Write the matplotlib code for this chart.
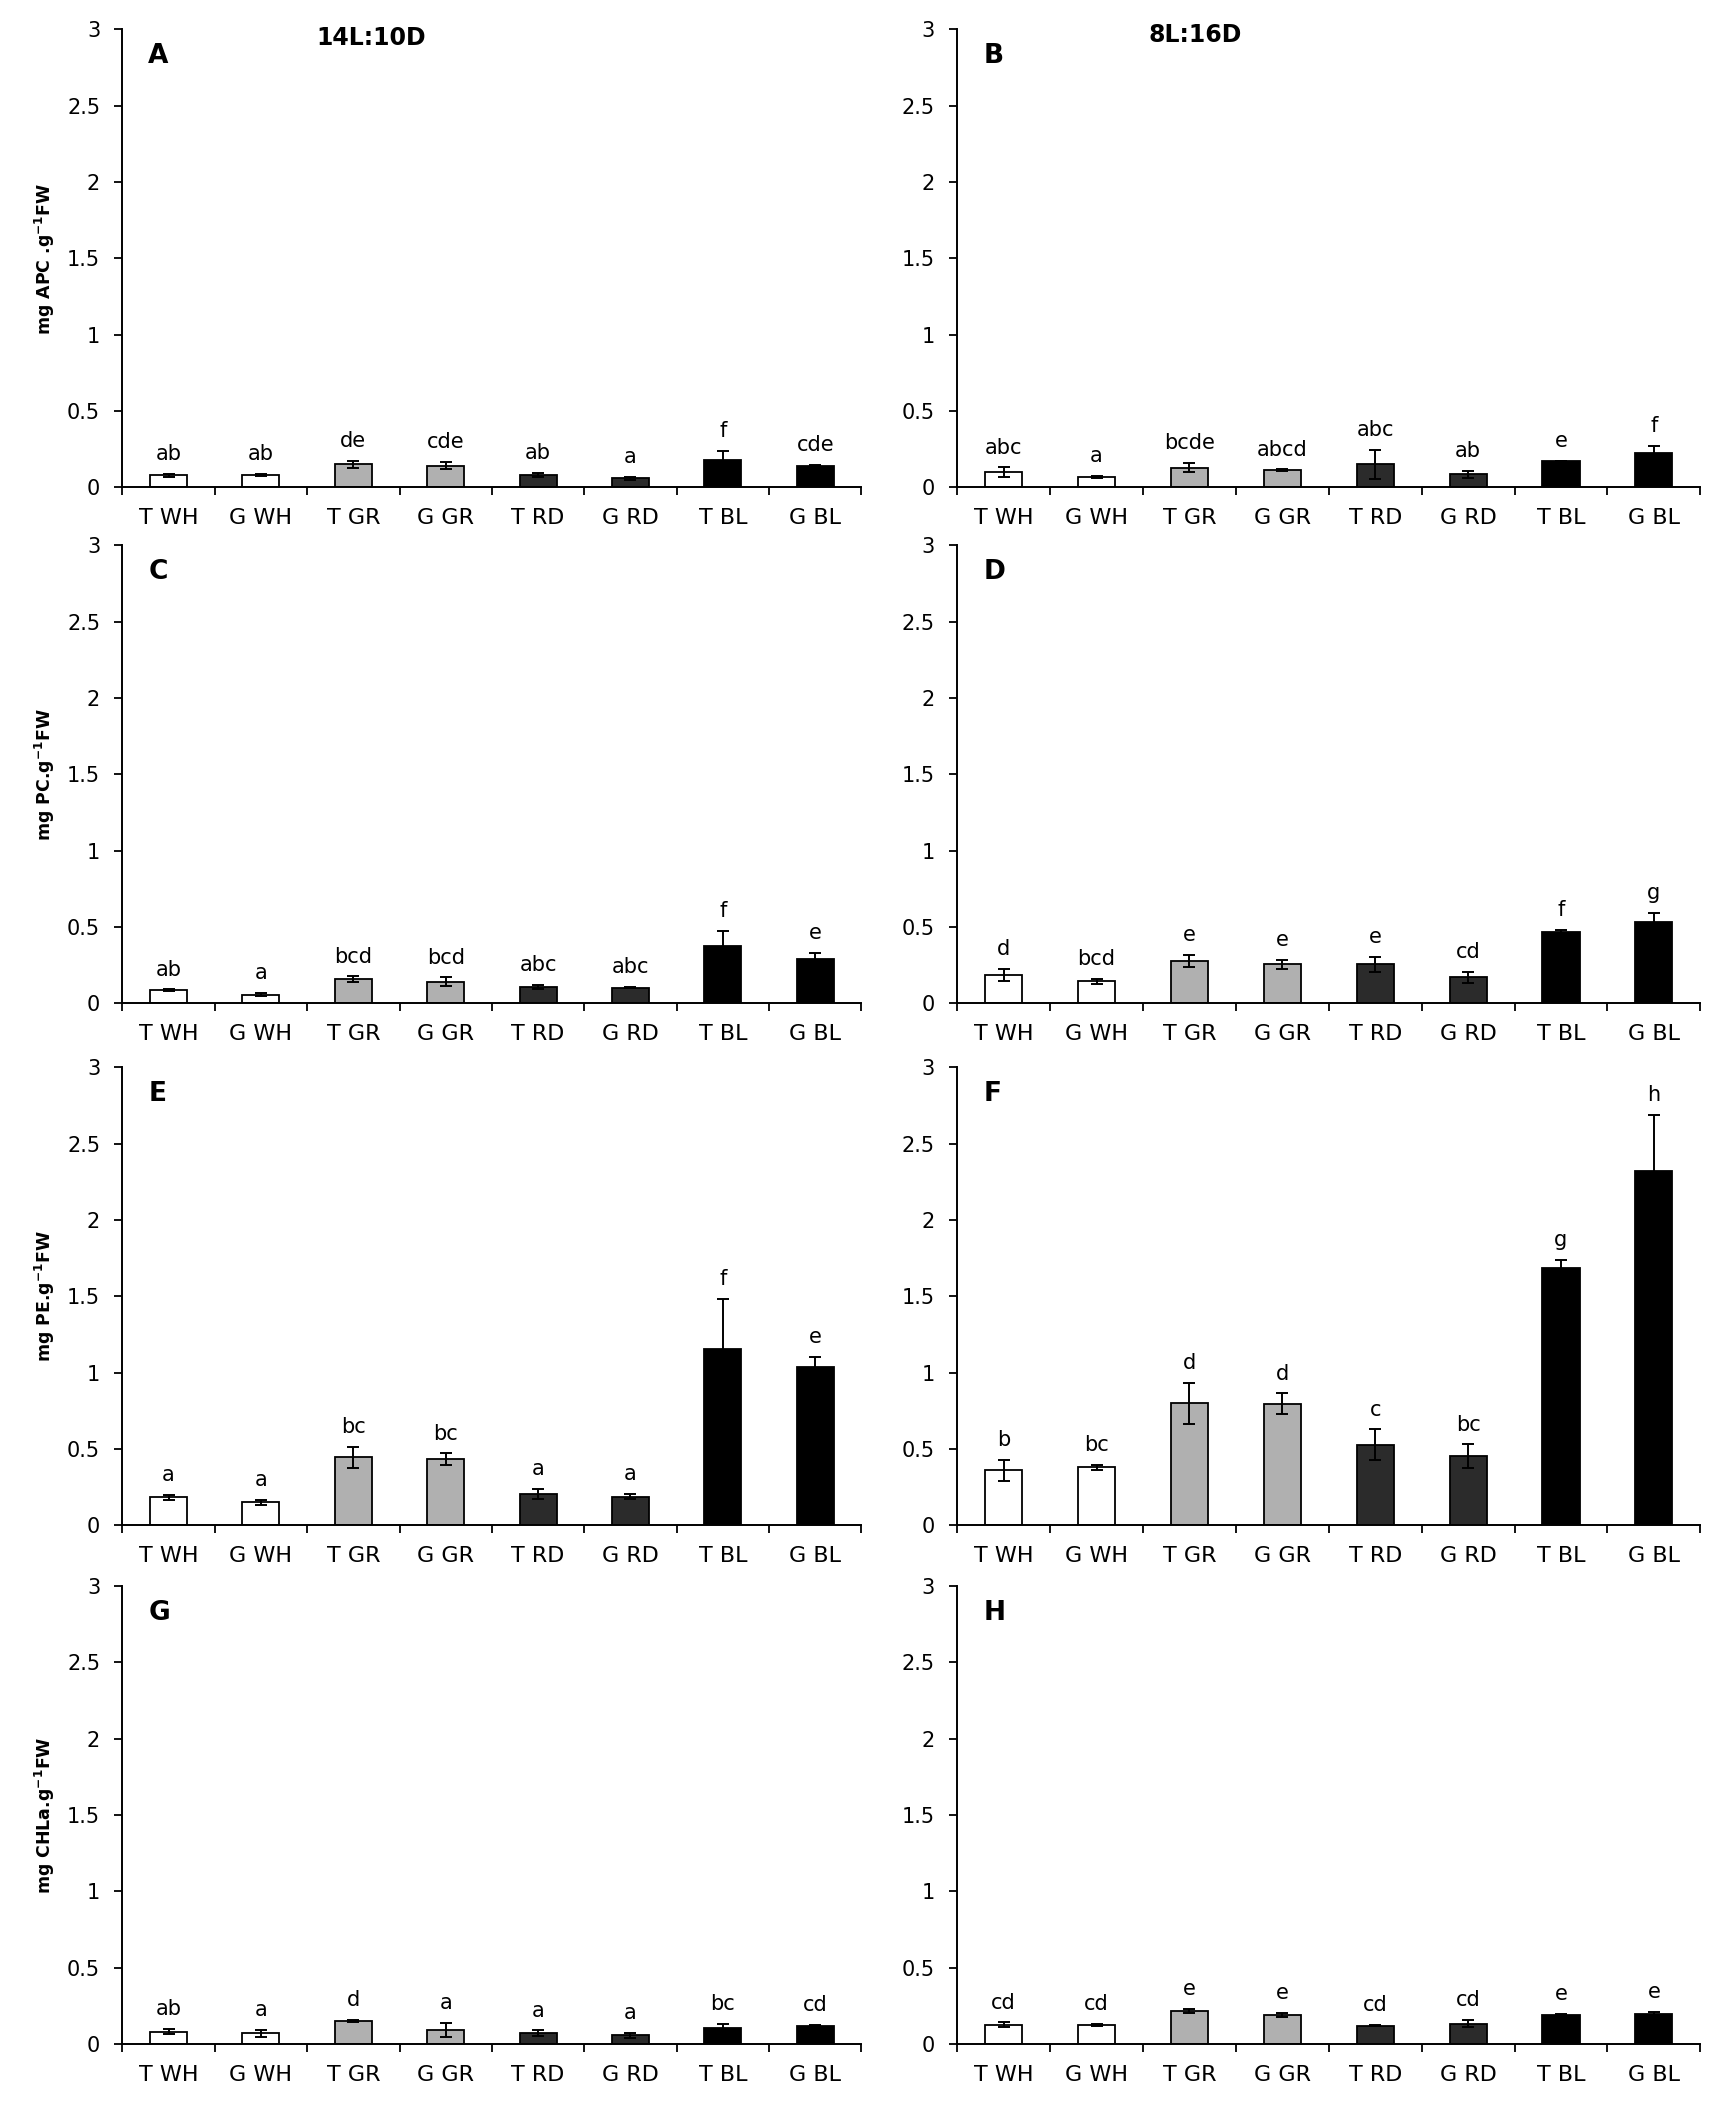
import matplotlib
matplotlib.use("Agg")
import matplotlib.pyplot as plt
import numpy as np

plt.rcParams['font.family'] = ['DejaVu Sans']

categories = ["T WH", "G WH", "T GR", "G GR", "T RD", "G RD", "T BL", "G BL"]
yticks = [0, 0.5, 1, 1.5, 2, 2.5, 3]
ytick_labels = ["0", "0.5", "1", "1.5", "2", "2.5", "3"]

# Panel A: APC, 14L:10D
apc_14 = [0.079, 0.079, 0.151, 0.142, 0.079, 0.059, 0.179, 0.142]
apc_14_err = [0.009, 0.007, 0.022, 0.025, 0.014, 0.010, 0.059, 0.003]
apc_14_sig = ["ab", "ab", "de", "cde", "ab", "a", "f", "cde"]
# Panel B: APC, 8L:16D
apc_8 = [0.098, 0.068, 0.129, 0.111, 0.151, 0.085, 0.170, 0.225]
apc_8_err = [0.032, 0.008, 0.030, 0.006, 0.095, 0.021, 0.003, 0.046]
apc_8_sig = ["abc", "a", "bcde", "abcd", "abc", "ab", "e", "f"]
# Panel C: PC, 14L:10D
pc_14 = [0.087, 0.057, 0.159, 0.142, 0.107, 0.103, 0.376, 0.290]
pc_14_err = [0.004, 0.010, 0.017, 0.027, 0.013, 0.005, 0.100, 0.042]
pc_14_sig = ["ab", "a", "bcd", "bcd", "abc", "abc", "f", "e"]
# Panel D: PC, 8L:16D
pc_8 = [0.186, 0.144, 0.275, 0.255, 0.255, 0.172, 0.467, 0.533]
pc_8_err = [0.039, 0.017, 0.040, 0.030, 0.049, 0.036, 0.015, 0.061]
pc_8_sig = ["d", "bcd", "e", "e", "e", "cd", "f", "g"]
# Panel E: PE, 14L:10D
pe_14 = [0.183, 0.151, 0.445, 0.432, 0.206, 0.188, 1.157, 1.035]
pe_14_err = [0.015, 0.015, 0.071, 0.040, 0.035, 0.016, 0.325, 0.068]
pe_14_sig = ["a", "a", "bc", "bc", "a", "a", "f", "e"]
# Panel F: PE, 8L:16D
pe_8 = [0.361, 0.379, 0.800, 0.797, 0.529, 0.454, 1.683, 2.320]
pe_8_err = [0.069, 0.019, 0.134, 0.067, 0.100, 0.077, 0.056, 0.370]
pe_8_sig = ["b", "bc", "d", "d", "c", "bc", "g", "h"]
# Panel G: CHLa, 14L:10D
chla_14 = [0.081, 0.070, 0.153, 0.092, 0.072, 0.057, 0.107, 0.116]
chla_14_err = [0.017, 0.023, 0.006, 0.047, 0.017, 0.017, 0.024, 0.007]
chla_14_sig = ["ab", "a", "d", "a", "a", "a", "bc", "cd"]
# Panel H: CHLa, 8L:16D
chla_8 = [0.127, 0.127, 0.216, 0.192, 0.120, 0.133, 0.190, 0.199]
chla_8_err = [0.015, 0.006, 0.016, 0.014, 0.005, 0.024, 0.009, 0.013]
chla_8_sig = ["cd", "cd", "e", "e", "cd", "cd", "e", "e"]

panel_letters = ["A", "B", "C", "D", "E", "F", "G", "H"]
ylabels = ["mg APC .g$^{\\mathbf{-1}}$FW", "mg PC.g$^{\\mathbf{-1}}$FW",
           "mg PE.g$^{\\mathbf{-1}}$FW", "mg CHLa.g$^{\\mathbf{-1}}$FW"]
col_titles = ["14L:10D", "8L:16D"]

panels = [
    (apc_14, apc_14_err, apc_14_sig), (apc_8, apc_8_err, apc_8_sig),
    (pc_14, pc_14_err, pc_14_sig), (pc_8, pc_8_err, pc_8_sig),
    (pe_14, pe_14_err, pe_14_sig), (pe_8, pe_8_err, pe_8_sig),
    (chla_14, chla_14_err, chla_14_sig), (chla_8, chla_8_err, chla_8_sig),
]

bar_colors = ["#ffffff", "#ffffff", "#b0b0b0", "#b0b0b0",
              "#2b2b2b", "#2b2b2b", "#000000", "#000000"]

W, H = 1732, 2110
fig = plt.figure(figsize=(W / 100, H / 100), dpi=100)

col_left = [122.4, 957.3]
col_width = [739.0, 743.0]
row_top = [29.3, 545.3, 1067.3, 1586.0]
row_h = 458.0

title_x = [0.336, 0.3195]
title_y = [2.897, 2.919]

for idx, (vals, errs, sigs) in enumerate(panels):
    r, c = divmod(idx, 2)
    left = col_left[c] / W
    bottom = 1 - (row_top[r] + row_h) / H
    ax = fig.add_axes([left, bottom, col_width[c] / W, row_h / H])
    x = np.arange(len(categories))
    ax.bar(x, vals, width=0.4, color=bar_colors, edgecolor="black",
           linewidth=1.3, zorder=2)
    ax.errorbar(x, vals, yerr=errs, fmt="none", ecolor="black",
                elinewidth=1.4, capsize=4.5, capthick=1.4, zorder=3)
    for xi, v, e, s in zip(x, vals, errs, sigs):
        ax.annotate(s, (xi, v + e), xytext=(0, 7), textcoords="offset points",
                    ha="center", va="bottom", fontsize=15)
    ax.set_xlim(-0.5, len(categories) - 0.5)
    ax.set_ylim(0, 3)
    ax.set_yticks(yticks)
    ax.set_yticklabels(ytick_labels)
    ax.set_xticks(x)
    ax.set_xticklabels(categories)
    ax.set_xticks(np.arange(-0.5, len(categories), 1.0), minor=True)
    ax.tick_params(axis="x", which="major", length=0, pad=15, labelsize=16)
    ax.tick_params(axis="x", which="minor", length=5.5, width=1.3,
                   direction="out")
    ax.tick_params(axis="y", which="major", length=6, width=1.3,
                   direction="out", pad=10, labelsize=15)
    for sp in ["top", "right"]:
        ax.spines[sp].set_visible(False)
    for sp in ["left", "bottom"]:
        ax.spines[sp].set_linewidth(1.4)
    ax.text(0.035, 2.78, panel_letters[idx], transform=ax.get_yaxis_transform(),
            fontsize=19, fontweight="bold", ha="left", va="baseline")
    if r == 0:
        ax.text(title_x[c], title_y[c], col_titles[c],
                transform=ax.get_yaxis_transform(), fontsize=17,
                fontweight="bold", ha="center", va="baseline")
    if c == 0:
        ax.set_ylabel(ylabels[r], fontsize=12.5, fontweight="bold")
        ax.yaxis.set_label_coords(-0.088, 0.5)

fig.savefig("out.png", dpi=100)
